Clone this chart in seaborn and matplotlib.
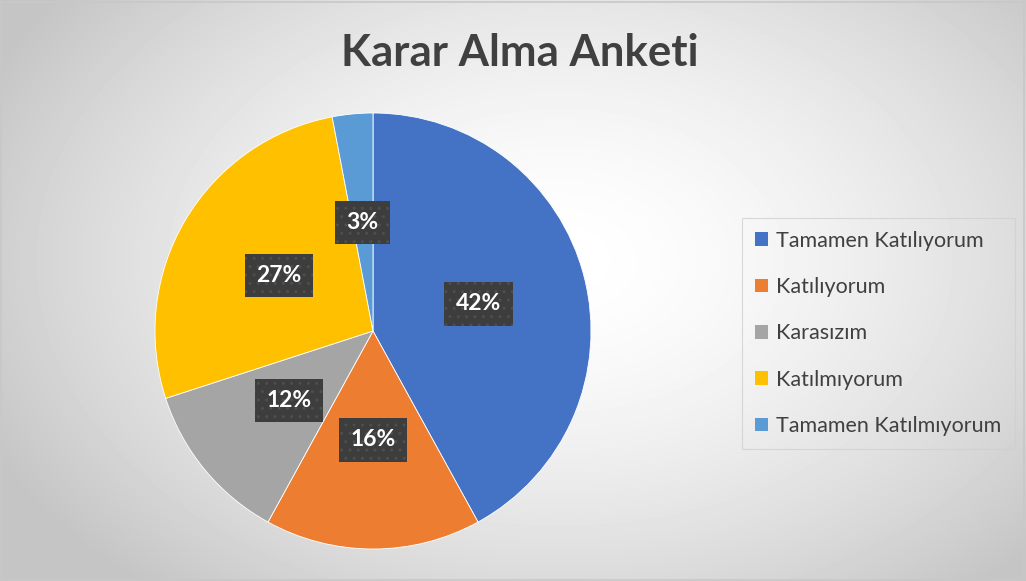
import numpy as np
import matplotlib
matplotlib.use('Agg')
import matplotlib.pyplot as plt
import seaborn as sns
from matplotlib.patches import Patch, Rectangle

# veri
categories = ['Tamamen Katılıyorum', 'Katılıyorum', 'Karasızım', 'Katılmıyorum', 'Tamamen Katılmıyorum']
values = [42, 16, 12, 27, 3]
colors = ['#4472C4', '#ED7D31', '#A5A5A5', '#FFC000', '#5B9BD5']
title = 'Karar Alma Anketi'

sns.set_theme(style='white')
plt.rcParams['font.family'] = ['Lato', 'DejaVu Sans']

fig = plt.figure(figsize=(10.26, 5.81), dpi=100)

# radyal gradyan arka plan
bg = fig.add_axes([0, 0, 1, 1])
yy, xx = np.mgrid[0:581, 0:1026]
d = np.sqrt(((xx - 560) / 620.0) ** 2 + ((yy - 260) / 420.0) ** 2)
shade = np.clip(1.0 - 0.22 * d ** 1.6, 0.77, 1.0)
bg.imshow(shade, cmap='gray', vmin=0, vmax=1, aspect='auto', extent=(0, 1, 0, 1))
bg.add_patch(Rectangle((0.001, 0.002), 0.997, 0.995, fill=False, edgecolor='#c8c8c8', lw=1.2))
bg.set_xlim(0, 1)
bg.set_ylim(0, 1)
bg.axis('off')

palette = sns.color_palette(colors)

ax = fig.add_axes([155 / 1026, (581 - 331 - 218) / 581, 436 / 1026, 436 / 581])
wedges, texts = ax.pie(values, colors=palette, startangle=90, counterclock=False,
                       wedgeprops=dict(edgecolor='white', linewidth=0.6))
ax.set_xlim(-1, 1)
ax.set_ylim(-1, 1)
ax.set_aspect('equal')
ax.axis('off')

# yüzde etiketleri
total = sum(values)
cum = 0
for v in values:
    ang = np.deg2rad(90 - 360 * (cum + v / 2) / total)
    cum += v
    ax.text(0.5 * np.cos(ang), 0.5 * np.sin(ang), f'{v}%', ha='center', va='center',
            color='white', fontsize=16.5, fontweight='bold',
            bbox=dict(boxstyle='square,pad=0.5', facecolor='#3d3d3d', edgecolor='#4e4e4e',
                      hatch='..', linewidth=0))

fig.text(0.507, 0.908, title, ha='center', va='center', fontsize=31.5, fontweight='bold', color='#404040')

handles = [Patch(facecolor=c, edgecolor='none') for c in colors]
leg = fig.legend(handles, categories, loc='upper left', bbox_to_anchor=(742 / 1026, 1 - 218 / 581),
                 frameon=True, fancybox=False, fontsize=15.5, labelcolor='#404040',
                 handlelength=0.6, handleheight=0.6, handletextpad=0.4, labelspacing=1.22,
                 borderpad=0.6, borderaxespad=0)
leg.get_frame().set_facecolor('none')
leg.get_frame().set_edgecolor('#d0d0d0')
leg.get_frame().set_linewidth(0.8)

fig.savefig('out.png', dpi=100)
